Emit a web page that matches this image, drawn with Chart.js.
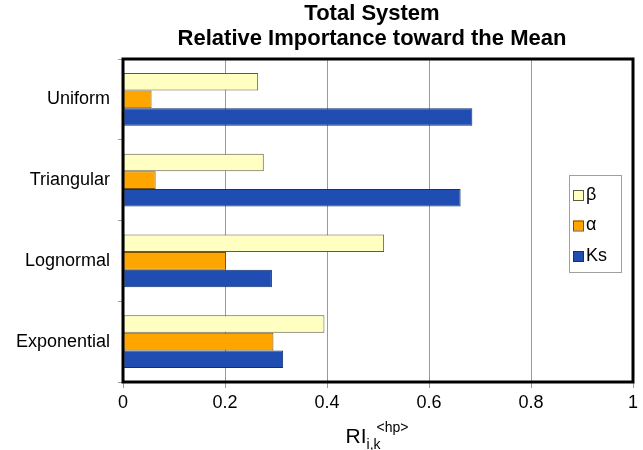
<!DOCTYPE html>
<html>
<head>
<meta charset="utf-8">
<title>Total System – Relative Importance toward the Mean</title>
<script src="https://cdn.jsdelivr.net/npm/chart.js@4/dist/chart.umd.min.js"></script>
<style>
  html, body { margin: 0; padding: 0; background: #ffffff; }
  #wrap { width: 643px; height: 450px; }
</style>
</head>
<body>
<div id="wrap"><canvas id="chart" width="643" height="450"></canvas></div>
<script>
// Distributions compared
const categories = ['Uniform', 'Triangular', 'Lognormal', 'Exponential'];

// Relative importance of each parameter
const betaValues  = [0.265, 0.276, 0.512, 0.395];
const alphaValues = [0.056, 0.064, 0.202, 0.295];
const ksValues    = [0.685, 0.662, 0.292, 0.314];

const seriesLabels = ['\u03B2', '\u03B1', 'Ks'];
const xTicks = [0, 0.2, 0.4, 0.6, 0.8, 1];

const FONT = '"Liberation Sans", Arial, Helvetica, sans-serif';

// Black frame round the plotting area
const framePlugin = {
  id: 'frame',
  afterDatasetsDraw(chart) {
    const a = chart.chartArea, ctx = chart.ctx;
    ctx.save();
    ctx.strokeStyle = '#000';
    ctx.lineWidth = 3;
    ctx.strokeRect(a.left, a.top, a.right - a.left, a.bottom - a.top);
    ctx.restore();
  }
};

// Two-line bold heading, centred a little left of the plot centre
const headingPlugin = {
  id: 'heading',
  afterDraw(chart) {
    const a = chart.chartArea, ctx = chart.ctx;
    const cx = (a.left + a.right) / 2 - 6;
    ctx.save();
    ctx.fillStyle = '#000';
    ctx.font = 'bold 22px ' + FONT;
    ctx.textAlign = 'center';
    ctx.textBaseline = 'middle';
    ctx.fillText('Total System', cx, 14);
    ctx.fillText('Relative Importance toward the Mean', cx, 39);
    ctx.restore();
  }
};

// Boxed legend placed inside the plot, near the right edge
const insideLegend = {
  id: 'insideLegend',
  afterDraw(chart) {
    const a = chart.chartArea, ctx = chart.ctx;
    const w = 52, h = 97;
    const x0 = a.right - 12 - w, y0 = a.top + 116;
    ctx.save();
    ctx.fillStyle = '#fff';
    ctx.fillRect(x0, y0, w, h);
    ctx.strokeStyle = '#a0a0a0';
    ctx.lineWidth = 1;
    ctx.strokeRect(x0 + 0.5, y0 + 0.5, w, h);
    ctx.font = '18px ' + FONT;
    ctx.textBaseline = 'middle';
    ctx.textAlign = 'left';
    chart.data.datasets.forEach((ds, i) => {
      const cy = y0 + 20 + i * 30.5;
      ctx.fillStyle = ds.backgroundColor;
      ctx.fillRect(x0 + 4, cy - 5, 10, 10);
      ctx.strokeStyle = ds.borderColor;
      ctx.strokeRect(x0 + 4.5, cy - 4.5, 10, 10);
      ctx.fillStyle = '#000';
      ctx.fillText(ds.label, x0 + 17, cy);
    });
    ctx.restore();
  }
};

// Axis title with subscript and superscript: RI_{i,k}^{<hp>}
const axisTitle = {
  id: 'axisTitle',
  afterDraw(chart) {
    const a = chart.chartArea, ctx = chart.ctx;
    ctx.save();
    ctx.fillStyle = '#000';
    ctx.textBaseline = 'alphabetic';
    ctx.textAlign = 'left';
    const big = '21px ' + FONT, small = '14px ' + FONT;
    ctx.font = big; const wMain = ctx.measureText('RI').width;
    ctx.font = small;
    const wSub = ctx.measureText('i,k').width;
    const wSup = ctx.measureText('<hp>').width;
    const total = wMain + wSub + wSup - 4;
    let x = (a.left + a.right) / 2 - 1 - total / 2;
    ctx.font = big; ctx.fillText('RI', x, 443);
    x += wMain;
    ctx.font = small; ctx.fillText('i,k', x, 449);
    ctx.fillText('<hp>', x + wSub - 4, 432);
    ctx.restore();
  }
};

new Chart(document.getElementById('chart'), {
  type: 'bar',
  data: {
    labels: categories,
    datasets: [
      { label: seriesLabels[0], data: betaValues,  backgroundColor: '#FFFFC2', borderColor: '#5e5b40', borderWidth: 1 },
      { label: seriesLabels[1], data: alphaValues, backgroundColor: '#FFA500', borderColor: '#7d5200', borderWidth: 1 },
      { label: seriesLabels[2], data: ksValues,    backgroundColor: '#1F4DB2', borderColor: '#14306e', borderWidth: 1 }
    ]
  },
  options: {
    indexAxis: 'y',
    responsive: false,
    animation: false,
    devicePixelRatio: 1,
    layout: { padding: { left: 0, right: 10, top: 59, bottom: 0 } },
    datasets: { bar: { categoryPercentage: 0.655, barPercentage: 1.0, borderSkipped: false } },
    plugins: {
      legend: { display: false },
      tooltip: { enabled: false },
      title: { display: false }
    },
    scales: {
      x: {
        type: 'linear',
        min: 0,
        max: 1,
        afterFit(scale) { scale.height = 68; },
        afterBuildTicks(scale) { scale.ticks = xTicks.map(v => ({ value: v })); },
        ticks: {
          color: '#000',
          font: { family: FONT, size: 18 },
          padding: 4,
          callback: v => String(v)
        },
        grid: { color: '#9a9a9a', lineWidth: 1, tickLength: 6, drawTicks: true },
        border: { display: false }
      },
      y: {
        afterFit(scale) { scale.width = 123; },
        ticks: {
          color: '#000',
          font: { family: FONT, size: 18 },
          padding: 8
        },
        grid: { offset: true, drawOnChartArea: false, color: '#9a9a9a', tickLength: 5 },
        border: { display: false }
      }
    }
  },
  plugins: [framePlugin, headingPlugin, insideLegend, axisTitle]
});
</script>
</body>
</html>
